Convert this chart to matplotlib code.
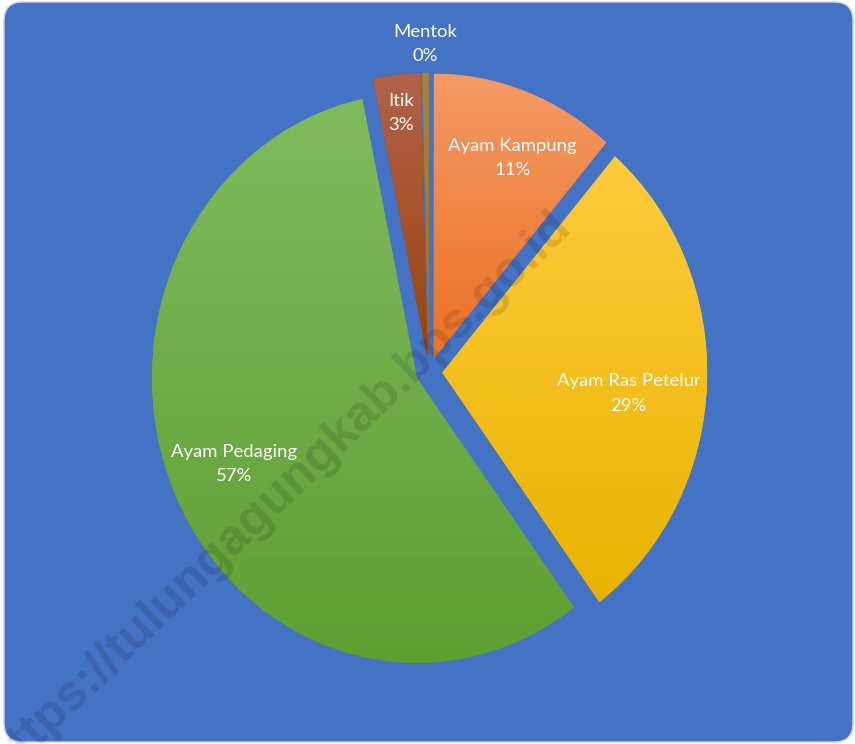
import matplotlib
matplotlib.use("Agg")
import matplotlib.pyplot as plt
import numpy as np
from matplotlib.patches import FancyBboxPatch
from matplotlib.colors import to_rgb

# ---- data ----
categories = ["Ayam Kampung", "Ayam Ras Petelur", "Ayam Pedaging", "Itik", "Mentok"]
shares = [11.3, 28.6, 56.8, 2.9, 0.4]
pct_labels = ["11%", "29%", "57%", "3%", "0%"]

# ---- style ----
top_colors = ["#F39A66", "#FFCB3C", "#80BA5E", "#B0634A", "#A8833A"]
bottom_colors = ["#EC7124", "#E8B300", "#5E9F32", "#9C420C", "#9A7420"]
label_pos = [(0.316, 0.751), (0.753, -0.074), (-0.734, -0.323), (-0.106, 0.909), (-0.015, 1.151)]
bg_blue = "#4472C4"

W, H = 855, 744
fig = plt.figure(figsize=(W / 100, H / 100), dpi=100)
fig.patch.set_facecolor("white")

# rounded background
bg = FancyBboxPatch((4 / W, 2 / H), (W - 6) / W, (H - 4) / H,
                    boxstyle="round,pad=0,rounding_size=0.022",
                    transform=fig.transFigure, facecolor=bg_blue,
                    edgecolor="#C8D2EA", linewidth=1.0, mutation_aspect=W / H,
                    zorder=-5)
fig.patches.append(bg)

ax = fig.add_axes([0, 0, 1, 1])
ax.set_zorder(2)
ax.patch.set_alpha(0)

cx_px, cy_px = 429, 372
sx, sy = 265.0, 285.0

wedges, _ = ax.pie(shares, explode=[0.05] * len(shares), startangle=90,
                   counterclock=False, radius=1.0,
                   wedgeprops=dict(linewidth=0))

for w, ct, cb in zip(wedges, top_colors, bottom_colors):
    ext = w.get_path().get_extents()
    t = np.linspace(0, 1, 256)[:, None]
    c0 = np.array(to_rgb(ct)); c1 = np.array(to_rgb(cb))
    grad = (c0[None, :] * (1 - t) + c1[None, :] * t)[:, None, :]
    w.set_facecolor(cb)
    im = ax.imshow(grad, extent=(ext.x0, ext.x1, ext.y0, ext.y1), origin="upper",
                   aspect="auto", interpolation="bilinear", zorder=w.get_zorder() + 0.1)
    im.set_clip_path(w)

for name, pct, (x, y) in zip(categories, pct_labels, label_pos):
    ax.text(x, y, f"{name}\n{pct}", ha="center", va="center", color="white",
            fontsize=13.3, family="Lato", linespacing=1.68, zorder=5)

ax.set_aspect("auto")
ax.set_xlim(-cx_px / sx, (W - cx_px) / sx)
ax.set_ylim(-(H - cy_px) / sy, cy_px / sy)
ax.axis("off")

# watermark
fig.text(279 / W, 1 - 494 / H, "https://tulungagungkab.bps.go.id", rotation=44,
         ha="center", va="center", fontsize=36, fontweight="bold",
         family="Liberation Sans", color="black", alpha=0.12,
         rotation_mode="anchor", zorder=10)

fig.savefig("out.png", dpi=100, facecolor=fig.get_facecolor())
